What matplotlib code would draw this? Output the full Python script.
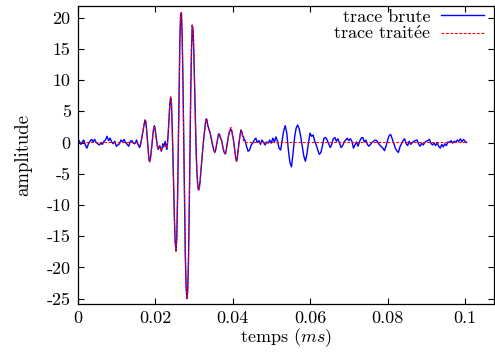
import numpy as np
import matplotlib
matplotlib.use("Agg")
import matplotlib.pyplot as plt

plt.rcParams['font.family'] = ['cmr10', 'DejaVu Serif']
plt.rcParams['mathtext.fontset'] = 'cm'
plt.rcParams['axes.unicode_minus'] = False

# ---- data ----
# time grid segments (ms)
t_seg_a = np.round(np.arange(0.0, 0.01561, 0.0004), 4)      # 40 pts
t_seg_b = np.round(np.arange(0.0160, 0.04401, 0.0002), 4)   # 141 pts
t_seg_c = np.round(np.arange(0.0444, 0.10041, 0.0004), 4)   # 141 pts

raw_a = [0.1, 0.3, -0.3, 0.1, 0.4, -0.4, -0.9, -0.2, 0.2, 0.5,
         0.1, 0.5, 0.0, -0.2, -0.4, -0.1, -0.3, 0.2, 0.4, 1.0,
         0.3, 0.7, 0.1, -0.2, 0.2, -0.6, -0.4, -0.2, 0.4, 0.1,
         0.5, 0.0, -0.3, -0.6, 0.2, 0.3, -0.1, -0.2, 0.4, -0.3]

raw_b = [-0.8, -0.5, 0.2, 0.9, 1.6, 2.4, 3.1, 3.6, 3.4, 2.2,
         0.6, -1.2, -2.6, -3.1, -2.6, -1.5, -0.3, 1.0, 2.1, 2.7,
         2.2, 1.2, 0.3, -0.6, -1.1, -0.8, -0.5, -0.9, -1.4, -0.9,
         -0.2, -0.7, -0.4, 0.2, -0.4, -1.1, -0.2, 1.6, 3.8, 6.0,
         7.1, 6.6, 3.0, -2.0, -7.5, -12.5, -16.0, -17.4, -15.2, -9.0,
         -0.5, 9.0, 16.5, 20.6, 20.8, 16.8, 9.5, 0.0, -10.0, -18.0,
         -23.0, -25.0, -24.0, -19.5, -11.5, -1.5, 8.0, 15.0, 18.8, 18.0,
         14.5, 9.0, 3.0, -1.5, -4.8, -6.7, -7.6, -7.4, -6.3, -4.9,
         -3.3, -1.8, -0.4, 0.9, 2.0, 3.1, 3.8, 3.6, 2.7, 2.4,
         1.9, 1.6, 0.9, 0.4, -0.3, -0.8, -1.3, -1.6, -1.3, -0.6,
         0.2, 0.9, 1.4, 1.3, 0.9, 0.6, 0.3, -0.4, -1.1, -1.5,
         -1.8, -1.8, -1.0, -0.3, 0.5, 1.2, 1.7, 2.0, 2.1, 1.8,
         1.1, 0.6, -0.4, -1.4, -2.4, -3.0, -2.6, -1.4, -0.4, 0.6,
         1.4, 2.0, 1.7, 1.1, 0.9, 0.5, 0.3, -0.1, -0.6, -1.0,
         -1.4]

raw_c = [-1.2, -0.4, -0.1, 0.4, 0.7, 0.0, 0.3, -0.3, 0.4, 0.0,
         -0.4, 0.1, -0.1, 0.4, -0.1, 0.7, 0.1, 0.9, 0.2, -0.9,
         -1.2, 0.3, 1.9, 2.7, 1.5, -1.2, -3.2, -3.9, -1.8, 0.8,
         2.3, 2.8, 2.2, 0.9, -0.6, -2.2, -3.0, -1.8, 0.0, 1.5,
         1.0, 1.2, 0.2, -0.4, -1.2, -1.9, -1.6, -0.5, 0.7, 0.8,
         0.4, -0.2, -0.8, -0.3, 0.6, 0.8, 0.2, 0.6, -0.1, -0.8,
         -0.5, 0.1, 0.4, 0.7, 0.3, 0.6, 0.2, -0.9, -0.4, 0.1,
         -0.6, 0.2, 0.7, 0.8, 0.1, 0.4, -0.3, -0.6, -0.3, 0.0,
         0.2, 0.4, 0.3, -0.1, -0.4, -0.7, -0.9, -1.3, -0.6, 0.3,
         1.1, 1.3, 0.6, -0.1, -0.9, -1.3, -1.6, -0.7, -0.2, 0.3,
         0.6, -0.2, -0.5, 0.2, -0.3, 0.0, 0.2, 0.3, 0.4, -0.2,
         -0.6, -0.1, -0.4, 0.0, 0.2, 0.3, 0.5, -0.1, -0.4, -0.1,
         -0.5, 0.0, -0.6, -0.9, -0.3, -0.7, -0.2, -0.5, 0.1, 0.0,
         0.3, -0.1, 0.2, 0.0, 0.4, 0.2, 0.6, 0.1, 0.5, 0.2,
         0.0]

# processed trace: zero outside the wavelet window
treated_lead_t = [0.0, 0.0152, 0.0156]
treated_lead_v = [0.0, 0.0, -0.2]
treated_b = [-0.4, -0.5, 0.0, 0.8, 1.6, 2.5, 3.2, 3.6, 3.3, 2.1,
             0.5, -1.3, -2.7, -3.1, -2.6, -1.4, -0.2, 1.1, 2.1, 2.6,
             2.2, 1.2, 0.2, -0.6, -1.0, -0.7, -0.6, -1.0, -1.4, -1.0,
             -0.5, -0.5, -0.5, -0.3, -0.6, -1.0, -0.2, 1.7, 4.0, 6.3,
             7.5, 6.8, 3.1, -2.0, -7.5, -12.5, -16.0, -17.4, -15.2, -9.0,
             -0.5, 9.0, 16.5, 20.6, 20.8, 16.8, 9.5, 0.0, -10.0, -18.0,
             -23.0, -25.0, -24.0, -19.5, -11.5, -1.5, 8.0, 15.0, 18.8, 18.0,
             14.5, 9.0, 3.0, -1.5, -4.8, -6.7, -7.6, -7.4, -6.3, -4.9,
             -3.3, -1.8, -0.4, 0.9, 2.0, 3.1, 3.8, 3.6, 2.8, 2.3,
             1.9, 1.5, 0.9, 0.3, -0.3, -0.8, -1.2, -1.5, -1.2, -0.6,
             0.2, 0.9, 1.4, 1.4, 1.0, 0.6, 0.2, -0.4, -1.0, -1.4,
             -1.7, -1.7, -1.1, -0.3, 0.5, 1.3, 1.9, 2.3, 2.4, 2.0,
             1.2, 0.5, -0.5, -1.5, -2.4, -3.0, -2.6, -1.5, -0.4, 0.6,
             1.5, 1.9, 1.6, 0.9, 0.4, 0.1, 0.0, 0.0, 0.0, 0.0,
             0.0]
treated_tail_t = [0.1004]
treated_tail_v = [0.0]

x_ticks = [0, 0.02, 0.04, 0.06, 0.08, 0.1]
x_tick_labels = ['0', '0.02', '0.04', '0.06', '0.08', '0.1']
y_ticks = [-25, -20, -15, -10, -5, 0, 5, 10, 15, 20]
y_tick_labels = ['-25', '-20', '-15', '-10', '-5', '0', '5', '10', '15', '20']

# ---- assemble ----
t_raw = np.concatenate([t_seg_a, t_seg_b, t_seg_c])
v_raw = np.concatenate([raw_a, raw_b, raw_c])
t_tr = np.concatenate([treated_lead_t, t_seg_b, treated_tail_t])
v_tr = np.concatenate([treated_lead_v, treated_b, treated_tail_v])

W, H = 495, 357
fig = plt.figure(figsize=(W / 100, H / 100), dpi=100)
L, R, T, B = 77.6, 493.5, 5.8, 304.2
ax = fig.add_axes([L / W, 1 - B / H, (R - L) / W, (B - T) / H])

ax.plot(t_raw, v_raw, color='#0000ff', lw=1.0, label='trace brute')
ax.plot(t_tr, v_tr, color='#ff0000', lw=0.8, ls=(0, (2.5, 1.5)),
        label=r'trace trait$\acute{\mathrm{e}}$e')

ax.set_xlim(0, 0.10735)
ax.set_ylim(-25.9, 21.9)
ax.set_xticks(x_ticks)
ax.set_xticklabels(x_tick_labels)
ax.set_yticks(y_ticks)
ax.set_yticklabels(y_tick_labels)
ax.tick_params(direction='in', top=True, right=True, length=4.5, width=0.8,
               labelsize=13, pad=5)
for s in ax.spines.values():
    s.set_linewidth(0.9)

ax.set_xlabel('temps ($ms$)', fontsize=13, labelpad=0)
ax.set_ylabel('amplitude', fontsize=13.5, labelpad=10)

leg = ax.legend(loc='upper right', bbox_to_anchor=(484 / W, 1 - 9.0 / H),
                bbox_transform=fig.transFigure, frameon=False, fontsize=13,
                markerfirst=False, handlelength=2.4, handletextpad=0.55,
                labelspacing=0.0, borderpad=0, borderaxespad=0)

fig.savefig('out.png', dpi=100)
